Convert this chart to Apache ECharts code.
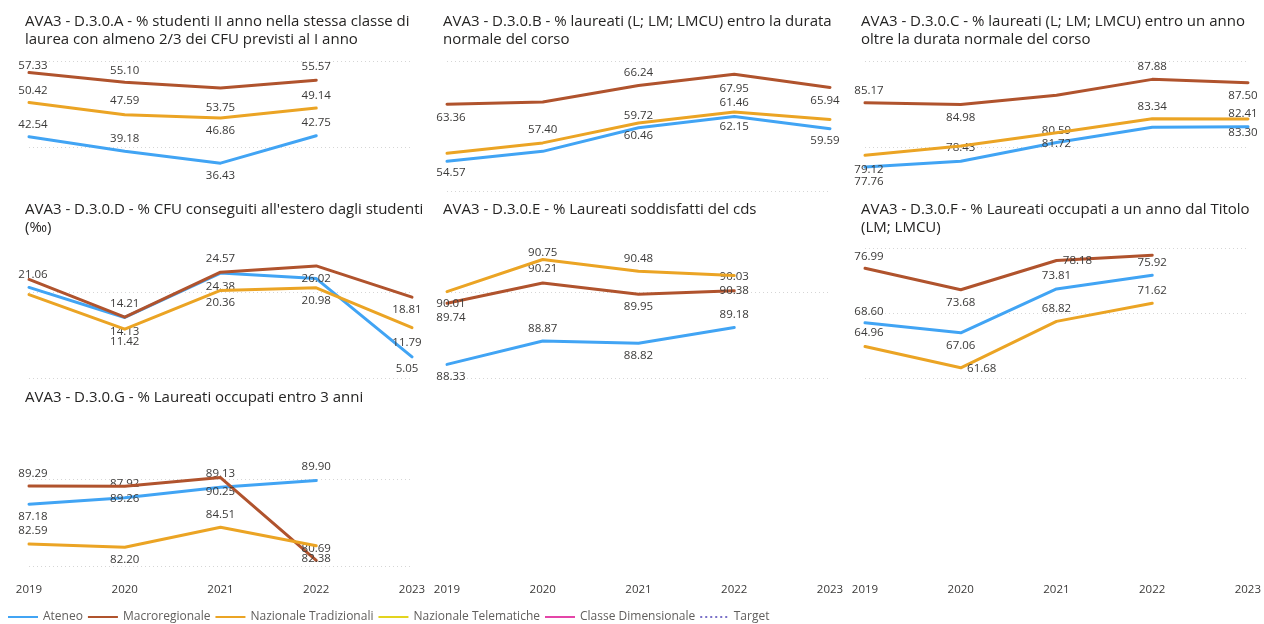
<!DOCTYPE html>
<html><head><meta charset="utf-8">
<script src="https://cdn.jsdelivr.net/npm/echarts@6/dist/echarts.min.js"></script>
<style>html,body{margin:0;padding:0;background:#fff}#c{width:1264px;height:624px}</style>
</head><body><div id="c"></div>
<script>
// ---- DATA ----
const years = ['2019', '2020', '2021', '2022', '2023'];
const seriesNames = ['Ateneo', 'Macroregionale', 'Nazionale Tradizionali'];
const extraNames = ['Nazionale Telematiche', 'Classe Dimensionale', 'Target'];
const titles = [
  'AVA3 - D.3.0.A - % studenti II anno nella stessa classe di\nlaurea con almeno 2/3 dei CFU previsti al I anno',
  'AVA3 - D.3.0.B - % laureati (L; LM; LMCU) entro la durata\nnormale del corso',
  'AVA3 - D.3.0.C - % laureati (L; LM; LMCU) entro un anno\noltre la durata normale del corso',
  "AVA3 - D.3.0.D - % CFU conseguiti all'estero dagli studenti\n(‰)",
  'AVA3 - D.3.0.E - % Laureati soddisfatti del cds',
  'AVA3 - D.3.0.F - % Laureati occupati a un anno dal Titolo\n(LM; LMCU)',
  'AVA3 - D.3.0.G - % Laureati occupati entro 3 anni'
];
// Panel A
const ateneoA = [42.54, 39.18, 36.43, 42.75];
const macroA  = [57.33, 55.10, 53.75, 55.57];
const nazA    = [50.42, 47.59, 46.86, 49.14];
// Panel B
const ateneoB = [54.57, 56.1, 59.72, 61.46, 59.59];
const macroB  = [63.36, 63.7, 66.24, 67.95, 65.94];
const nazB    = [55.8, 57.40, 60.46, 62.15, 61.0];
// Panel C
const ateneoC = [77.76, 78.43, 80.59, 82.35, 82.41];
const macroC  = [85.17, 84.98, 86.05, 87.88, 87.50];
const nazC    = [79.12, 80.2, 81.72, 83.34, 83.30];
// Panel D
const ateneoD = [21.06, 14.13, 24.38, 23.1, 5.05];
const macroD  = [22.9, 14.21, 24.57, 26.02, 18.81];
const nazD    = [19.4, 11.42, 20.36, 20.98, 11.79];
// Panel E
const ateneoE = [88.33, 88.87, 88.82, 89.18];
const macroE  = [89.74, 90.21, 89.95, 90.03];
const nazE    = [90.01, 90.75, 90.48, 90.38];
// Panel F
const ateneoF = [68.60, 67.06, 73.81, 75.92];
const macroF  = [76.99, 73.68, 78.18, 79.0];
const nazF    = [64.96, 61.68, 68.82, 71.62];
// Panel G
const ateneoG = [87.18, 87.92, 89.13, 89.90];
const macroG  = [89.29, 89.26, 90.25, 80.69];
const nazG    = [82.59, 82.20, 84.51, 82.38];

// y-axis ranges and visible gridline values per panel
const yMin  = [30, 50, 75, 0, 88, 60, 80];
const yMax  = [60, 70, 90, 30, 91, 80, 95];
const yStep = [10, 10, 5, 10, 1, 10, 5];
const gridVals = [[40, 60], [50, 70], [80, 90], [0, 20], [88, 90], [60, 70, 80], [80, 90]];

// ---- LABEL PLACEMENT (vertical offset of label from point; null = hidden) ----
const lblA = [[-12, -13, 13, -13], [-7, -12, 20, -13], [-12, -14, 13, -12]];
const lblB = [[11, null, -12, -14, 12], [14, null, -13, 14, 13], [null, -13, 13, 15, null]];
const lblC = [[15, -14, -12, null, -13], [-12, 13, null, -13, 13], [14, null, 11, -12, 14]];
const lblD = [[-13, 14, 14, null, 12], [null, -13, -14, 13, 13], [null, 13, 12, 13, 15]];
const lblE = [[12, -12, 13, -13], [14, -14, 13, -14], [12, -7, -13, 15]];
const lblF = [[-11, 13, -13, -13], [-12, 13, [21, 0], null], [-14, [21, 1], -13, -12]];
const lblG = [[13, -14, -14, -14], [-12, 13, 14, -12], [-13, 12, -13, 13]];

const panels = [
  [ateneoA, macroA, nazA, lblA],
  [ateneoB, macroB, nazB, lblB],
  [ateneoC, macroC, nazC, lblC],
  [ateneoD, macroD, nazD, lblD],
  [ateneoE, macroE, nazE, lblE],
  [ateneoF, macroF, nazF, lblF],
  [ateneoG, macroG, nazG, lblG]
];

// ---- STYLE ----
const FONT = '"Open Sans", "Noto Sans", sans-serif';
const colors = ['#41A4F4', '#B0532D', '#EBA424'];
const extraColors = ['#E3D41E', '#E445A8', '#7A70C8'];
const gridColor = '#d6d6d6';
const COLW = 418, ROWH = 187.7, LEFT0 = 29, TOP0 = 61, PW = 383, PH = 130;

const chart = echarts.init(document.getElementById('c'), null, {renderer: 'canvas'});

const grids = [], xAxes = [], yAxes = [], series = [], titleList = [];
const cells = [[0,0],[0,1],[0,2],[1,0],[1,1],[1,2],[2,0]];
const bottomPanels = [6]; // panels that show x labels

cells.forEach(([r, c], i) => {
  grids.push({left: LEFT0 + COLW * c, top: TOP0 + ROWH * r, width: PW, height: PH, containLabel: false});
  titleList.push({
    text: titles[i], left: 25 + COLW * c, top: 13 + ROWH * r, padding: 0,
    textStyle: {fontFamily: FONT, fontSize: 15, fontWeight: 'normal', color: '#252423', lineHeight: 18}
  });
});
// empty cells in the bottom row that only carry the x-axis labels
const emptyCells = [[2,1],[2,2]];
emptyCells.forEach(([r, c]) => {
  grids.push({left: LEFT0 + COLW * c, top: TOP0 + ROWH * r, width: PW, height: PH});
});

function xAxisDef(gi, showLabels) {
  return {
    type: 'category', gridIndex: gi, data: years, boundaryGap: false,
    axisLine: {show: false}, axisTick: {show: false}, splitLine: {show: false},
    axisLabel: {show: showLabels, margin: 17, fontFamily: FONT, fontSize: 11.5, color: '#3b3a39'}
  };
}

for (let i = 0; i < 7; i++) {
  xAxes.push(xAxisDef(i, bottomPanels.includes(i)));
  const ticks = [];
  for (let v = yMin[i]; v <= yMax[i] + 1e-9; v += yStep[i]) ticks.push(v);
  const lineColors = ticks.map(t => gridVals[i].some(g => Math.abs(g - t) < 1e-9) ? gridColor : 'rgba(0,0,0,0)');
  yAxes.push({
    type: 'value', gridIndex: i, min: yMin[i], max: yMax[i], interval: yStep[i],
    axisLabel: {show: false}, axisLine: {show: false}, axisTick: {show: false},
    splitLine: {show: true, lineStyle: {color: lineColors, type: [1, 3], width: 1}}
  });
  const p = panels[i];
  for (let s = 0; s < 3; s++) {
    const vals = p[s], lbl = p[3][s];
    const data = vals.map((v, k) => {
      const L = lbl[k];
      if (L === null || L === undefined) return {value: v, label: {show: false}};
      let dx = 0, dy = L;
      if (Array.isArray(L)) { dx = L[0]; dy = L[1]; }
      else { if (k === 0) dx = 4; if (k === 4) dx = -5; }
      return {value: v, label: {show: true, position: 'inside', offset: [dx, dy]}};
    });
    series.push({
      name: seriesNames[s], type: 'line', xAxisIndex: i, yAxisIndex: i,
      data: data, symbol: 'circle', symbolSize: 1, showSymbol: true,
      lineStyle: {width: 3, color: colors[s], cap: 'round', join: 'round'},
      itemStyle: {color: colors[s]},
      label: {show: true, formatter: (d) => d.value.toFixed(2), fontFamily: FONT, fontSize: 11.5, color: '#3b3a39'},
      emphasis: {disabled: true}, z: 2 + s
    });
  }
}
// empty bottom cells
[7, 8].forEach(gi => {
  xAxes.push(xAxisDef(gi, true));
  yAxes.push({type: 'value', gridIndex: gi, min: 0, max: 1, show: false, splitLine: {show: false}});
});
// legend-only series
extraNames.forEach((n, k) => {
  series.push({
    name: n, type: 'line', xAxisIndex: 0, yAxisIndex: 0, data: [],
    lineStyle: {width: 3, color: extraColors[k], type: k === 2 ? 'dotted' : 'solid'},
    itemStyle: {color: extraColors[k]}
  });
});

const legendData = seriesNames.concat(extraNames).map(n => n === 'Target'
  ? {name: n, icon: 'path://M0,0h2v2h-2zM5,0h2v2h-2zM10,0h2v2h-2zM15,0h2v2h-2zM20,0h2v2h-2zM25,0h2v2h-2z'}
  : {name: n, icon: 'rect'});

chart.setOption({
  animation: false,
  textStyle: {fontFamily: FONT},
  title: titleList,
  legend: {
    data: legendData, left: 8, top: 611, padding: 0, itemWidth: 30, itemHeight: 2, itemGap: 5,
    textStyle: {fontFamily: FONT, fontSize: 12, color: '#605e5c'}
  },
  grid: grids, xAxis: xAxes, yAxis: yAxes, series: series
});
</script></body></html>
